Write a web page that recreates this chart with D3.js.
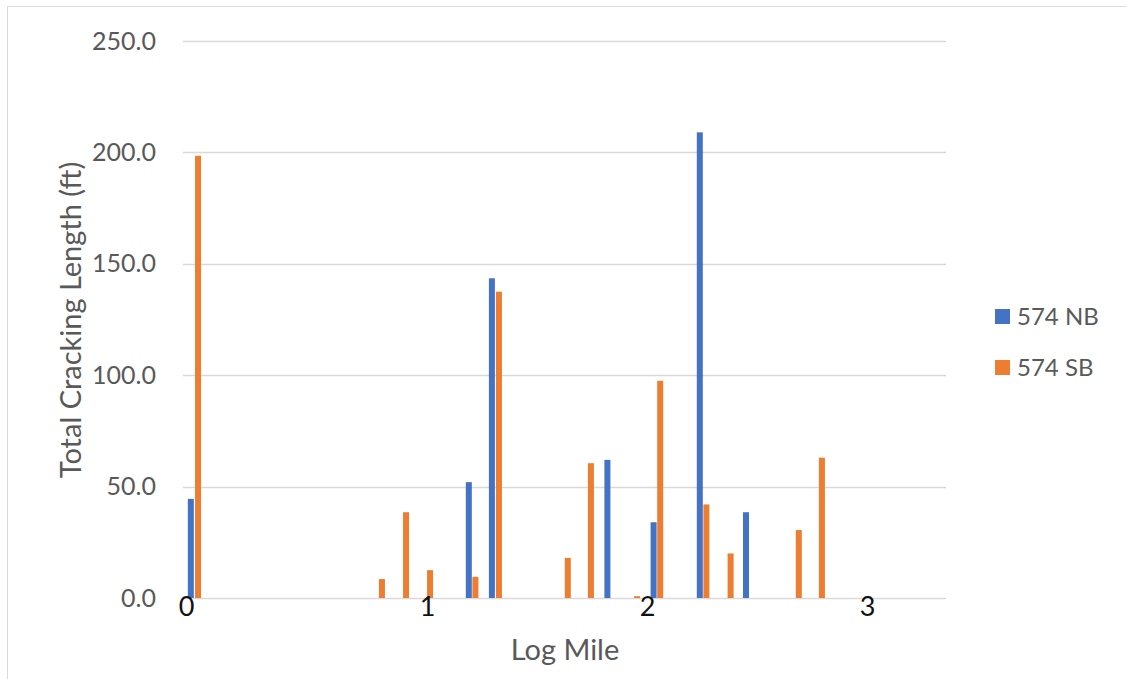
<!DOCTYPE html>
<html>
<head>
<meta charset="utf-8">
<script src="https://cdn.jsdelivr.net/npm/d3@7"></script>
<style>
    body { margin: 0; background: #fff; }
    text { font-family: Lato, "Noto Sans", sans-serif; }
</style>
</head>
<body>
<script>
// Data (log mile, total cracking length in ft)
var nbMiles = [0.02, 1.19, 1.295, 1.82, 2.03, 2.24, 2.45];
var nbValues = [44.5, 52.0, 143.5, 62.0, 34.0, 209.0, 38.5];

var sbMiles = [0.05, 0.813, 0.913, 1.014, 1.22, 1.327, 1.64, 1.745,
    1.955, 2.06, 2.27, 2.38, 2.69, 2.795];
var sbValues = [198.5, 8.5, 38.5, 12.5, 9.5, 137.5, 18.0, 60.5,
    0.8, 97.5, 42.0, 20.0, 30.5, 63.0];

var seriesNames = ["574 NB", "574 SB"];
var seriesColors = ["#4472c4", "#ed7d31"];
var xTicks = [0, 1, 2, 3];
var yTicks = [0, 50, 100, 150, 200, 250];

var W = 1126, H = 679;
var plot = {left: 183, right: 946, top: 41, bottom: 598};

var svg = d3.select("body").append("svg")
    .attr("width", W)
    .attr("height", H);

// outer chart border
svg.append("rect")
    .attr("x", 7.5).attr("y", 6.5)
    .attr("width", W).attr("height", H)
    .attr("fill", "none")
    .attr("stroke", "#d9d9d9");

// the mile labels in the original are not evenly spaced, so a
// piecewise linear scale keeps bars and labels where they were
var xScale = d3.scaleLinear()
    .domain([0, 1, 2, 3])
    .range([186, 427, 647, 867]);

var yScale = d3.scaleLinear()
    .domain([0, 250])
    .range([plot.bottom, plot.top]);

// horizontal gridlines
svg.append("g")
    .selectAll("line")
    .data(yTicks)
    .enter()
    .append("line")
    .attr("x1", plot.left)
    .attr("x2", plot.right)
    .attr("y1", function(d) { return Math.round(yScale(d)) + 0.5; })
    .attr("y2", function(d) { return Math.round(yScale(d)) + 0.5; })
    .attr("stroke", "#d9d9d9")
    .attr("stroke-width", 1.3);

// y axis labels
var yAxis = d3.axisLeft(yScale)
    .tickValues(yTicks)
    .tickSize(0)
    .tickPadding(0)
    .tickFormat(d3.format(".1f"));

var yG = svg.append("g")
    .attr("transform", "translate(156,0)")
    .call(yAxis);
yG.select(".domain").remove();
yG.selectAll("text")
    .attr("font-size", "25px")
    .attr("fill", "#595959")
    .attr("font-family", "Lato, 'Noto Sans', sans-serif");

// bars, one group per series
var barW = 6;
var series = [
    {miles: nbMiles, values: nbValues},
    {miles: sbMiles, values: sbValues}
];

series.forEach(function(s, i) {
    var pts = s.miles.map(function(m, j) {
        return {mile: m, value: s.values[j]};
    });
    svg.append("g")
        .selectAll("rect")
        .data(pts)
        .enter()
        .append("rect")
        .attr("x", function(d) { return xScale(d.mile) - barW / 2; })
        .attr("y", function(d) { return yScale(d.value); })
        .attr("width", barW)
        .attr("height", function(d) { return plot.bottom - yScale(d.value); })
        .attr("fill", seriesColors[i]);
});

// x axis labels (black, larger, as in the original)
var xAxis = d3.axisBottom(xScale)
    .tickValues(xTicks)
    .tickSize(0)
    .tickPadding(0)
    .tickFormat(d3.format("d"));

var xG = svg.append("g")
    .attr("transform", "translate(0," + 596 + ")")
    .call(xAxis);
xG.select(".domain").remove();
xG.selectAll("text")
    .attr("font-size", "27px")
    .attr("fill", "#111")
    .attr("dy", "0.75em")
    .attr("font-family", "Lato, 'Noto Sans', sans-serif");

// axis titles
svg.append("text")
    .attr("x", 565)
    .attr("y", 660)
    .attr("text-anchor", "middle")
    .attr("font-size", "29px")
    .attr("fill", "#595959")
    .text("Log Mile");

svg.append("text")
    .attr("transform", "translate(81," + 320 + ")rotate(-90)")
    .attr("text-anchor", "middle")
    .attr("font-size", "29px")
    .attr("fill", "#595959")
    .text("Total Cracking Length (ft)");

// legend
var legend = svg.append("g")
    .selectAll("g")
    .data(seriesNames)
    .enter()
    .append("g")
    .attr("transform", function(d, i) {
        return "translate(995," + (309 + i * 51) + ")";
    });

legend.append("rect")
    .attr("width", 15)
    .attr("height", 15)
    .attr("fill", function(d, i) { return seriesColors[i]; });

legend.append("text")
    .attr("x", 22)
    .attr("y", 8)
    .attr("dy", "0.35em")
    .attr("font-size", "24px")
    .attr("fill", "#595959")
    .text(function(d) { return d; });
</script>
</body>
</html>
